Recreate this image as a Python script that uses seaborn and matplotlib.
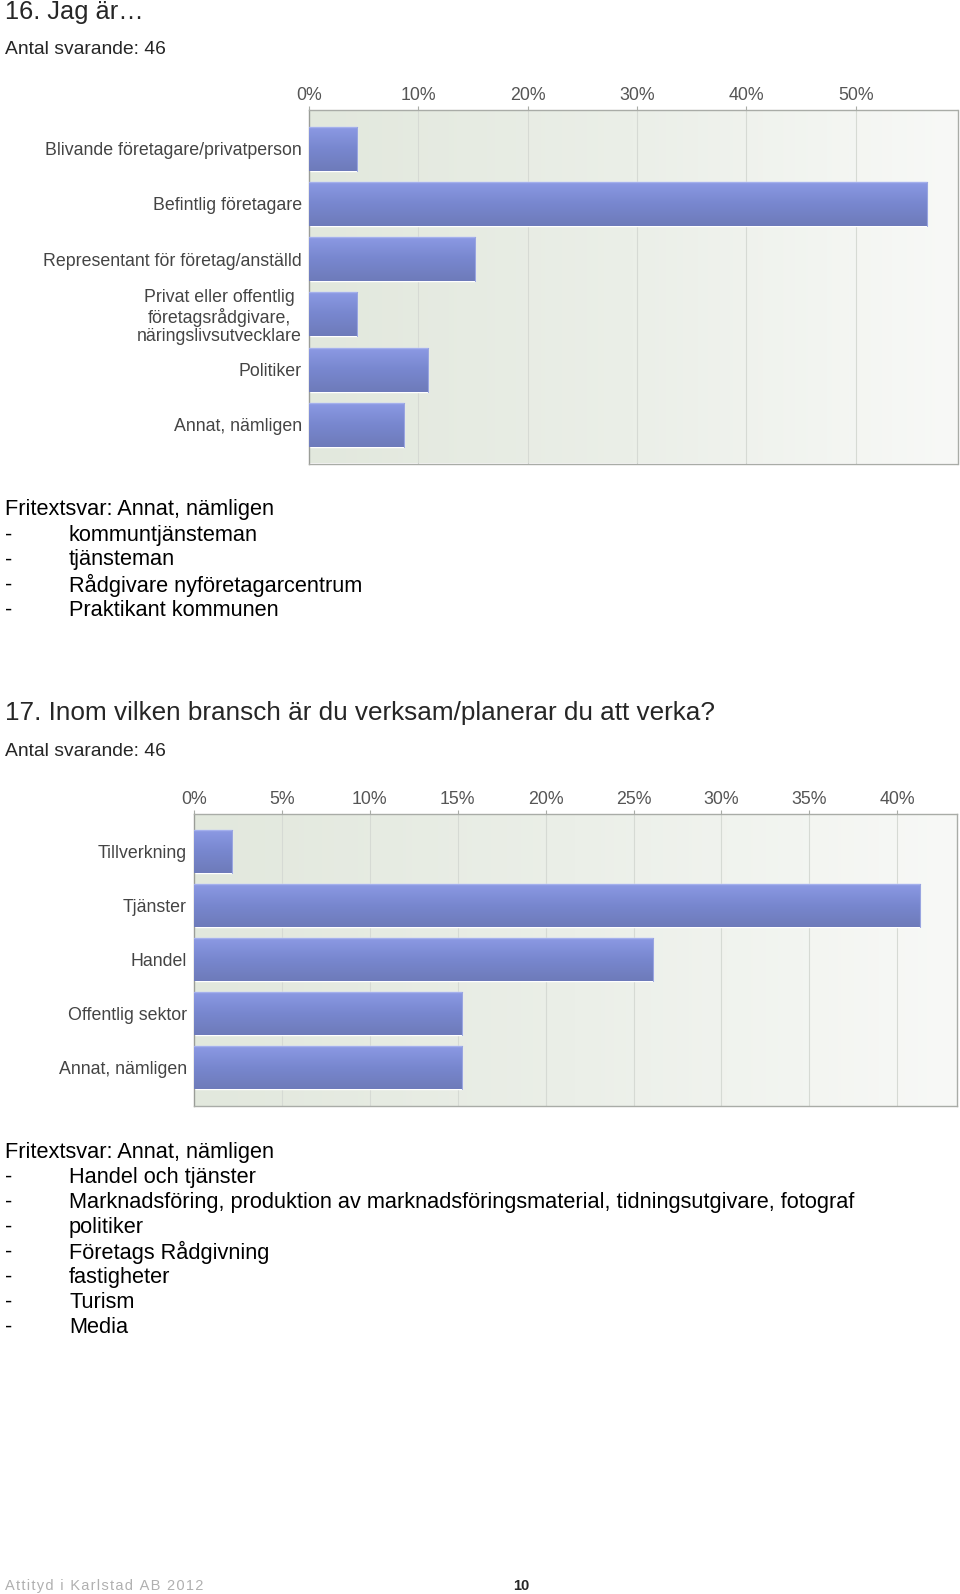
"""
Two survey bar charts (question 16 and 17) laid out as a report page.
"""

import numpy as np
import pandas as pd
import matplotlib
matplotlib.use("Agg")
import matplotlib.pyplot as plt
from matplotlib.colors import LinearSegmentedColormap
import seaborn as sns

# ── Data ───────────────────────────────────────────────────────────────────────
N_RESP = 46

Q16_TITLE = "16. Jag är…"
Q16_CATS = [
    "Blivande företagare/privatperson",
    "Befintlig företagare",
    "Representant för företag/anställd",
    "Privat eller offentlig\nföretagsrådgivare,\nnäringslivsutvecklare",
    "Politiker",
    "Annat, nämligen",
]
Q16_PCT = [4.35, 56.52, 15.22, 4.35, 10.87, 8.70]
Q16_TICKS = [0, 10, 20, 30, 40, 50]
Q16_FREE = ["kommuntjänsteman", "tjänsteman", "Rådgivare nyföretagarcentrum",
            "Praktikant kommunen"]

Q17_TITLE = "17. Inom vilken bransch är du verksam/planerar du att verka?"
Q17_CATS = ["Tillverkning", "Tjänster", "Handel", "Offentlig sektor", "Annat, nämligen"]
Q17_PCT = [2.17, 41.30, 26.09, 15.22, 15.22]
Q17_TICKS = [0, 5, 10, 15, 20, 25, 30, 35, 40]
Q17_FREE = ["Handel och tjänster",
            "Marknadsföring, produktion av marknadsföringsmaterial, tidningsutgivare, fotograf",
            "politiker", "Företags Rådgivning", "fastigheter", "Turism", "Media"]

FOOTER = "Attityd i Karlstad AB 2012"
PAGE_NO = "10"

# ── Style ──────────────────────────────────────────────────────────────────────
sns.set_theme(style="white")
plt.rcParams["font.family"] = ["Liberation Sans", "DejaVu Sans"]

W, H = 960, 1594
BAR_CMAP = LinearSegmentedColormap.from_list("bar", ["#8c9ae4", "#7887cf", "#6e7bba"])
BG_CMAP = LinearSegmentedColormap.from_list("bg", ["#e2e8dd", "#ebefe8", "#f8f9f7"])
FRAME = "#a9aca7"
GRID = "#d6dad4"
TICK_FS = 12.8
BODY_FS = 15.7


def px(x, y):
    """pixel coords (top-left origin) -> figure fraction"""
    return x / W, 1 - y / H


def bar_chart(fig, rect, cats, vals, ticks, xmax):
    l, t, r, b = rect
    ax = fig.add_axes([l / W, 1 - b / H, (r - l) / W, (b - t) / H])
    df = pd.DataFrame({"cat": cats, "pct": vals})
    sns.barplot(data=df, x="pct", y="cat", orient="h", color="#7b89d2",
                width=0.8, saturation=1, ax=ax, zorder=2)
    n = len(cats)
    ax.set_xlim(0, xmax)

    # background gradient
    grad = np.linspace(0, 1, 256).reshape(1, -1)
    ax.imshow(grad, cmap=BG_CMAP, aspect="auto", extent=[0, xmax, n - 0.3, -0.7],
              zorder=0)

    # gradient fill for each bar
    vgrad = np.linspace(0, 1, 64).reshape(-1, 1)
    for p in ax.patches:
        x0, y0 = p.get_x(), p.get_y()
        im = ax.imshow(vgrad, cmap=BAR_CMAP, aspect="auto",
                       extent=[x0, x0 + p.get_width(), y0 + p.get_height(), y0],
                       zorder=3)
        im.set_clip_path(p)
        ax.plot([x0, x0 + p.get_width()], [y0, y0], color="#a4b0ec", lw=1, zorder=4)
        ax.plot([x0 + p.get_width()] * 2, [y0, y0 + p.get_height()],
                color="#99a5e0", lw=0.8, zorder=4)
    ax.set_xlim(0, xmax)
    ax.set_ylim(n - 0.3, -0.7)

    ax.set_xticks(ticks)
    ax.set_xticklabels([f"{v}%" for v in ticks])
    ax.xaxis.tick_top()
    ax.tick_params(axis="x", top=True, length=3, width=0.8, color=FRAME, pad=1.5,
                   labelsize=TICK_FS, labelcolor="#555555")
    ax.tick_params(axis="y", left=False, length=0, pad=5, labelsize=TICK_FS,
                   labelcolor="#444444")
    for lab in ax.get_yticklabels():
        lab.set_multialignment("center")
        lab.set_linespacing(1.1)
    ax.set_xlabel("")
    ax.set_ylabel("")
    for v in ticks[1:]:
        ax.axvline(v, color=GRID, lw=0.8, zorder=1)
    for s in ax.spines.values():
        s.set_color(FRAME)
        s.set_linewidth(1.0)
    ax.spines["left"].set_color("#9a9d98")
    return ax


def text_block(fig, y0, header, items, step, fs):
    fig.text(*px(5, y0), header, fontsize=fs, va="center", ha="left", color="black")
    for i, item in enumerate(items):
        y = y0 + step * (i + 1)
        fig.text(*px(5, y), "-", fontsize=fs, va="center", ha="left", color="black")
        fig.text(*px(69, y), item, fontsize=fs, va="center", ha="left", color="black")


fig = plt.figure(figsize=(W / 100, H / 100), dpi=100)
fig.patch.set_facecolor("white")

# ── Question 16 ────────────────────────────────────────────────────────────────
fig.text(*px(5, 12), Q16_TITLE, fontsize=18.3, va="center", ha="left")
fig.text(*px(5, 49), f"Antal svarande: {N_RESP}", fontsize=13.9, va="center")
bar_chart(fig, (309, 110, 957.5, 463.5), Q16_CATS, Q16_PCT, Q16_TICKS, 59.3)
text_block(fig, 510, "Fritextsvar: Annat, nämligen", Q16_FREE, 25.0, BODY_FS)

# ── Question 17 ────────────────────────────────────────────────────────────────
fig.text(*px(5, 713), Q17_TITLE, fontsize=18.8, va="center", ha="left")
fig.text(*px(5, 752), f"Antal svarande: {N_RESP}", fontsize=13.9, va="center")
bar_chart(fig, (194, 814, 957, 1105.5), Q17_CATS, Q17_PCT, Q17_TICKS, 43.4)
text_block(fig, 1152.5, "Fritextsvar: Annat, nämligen", Q17_FREE, 25.0, BODY_FS)

# ── Footer ─────────────────────────────────────────────────────────────────────
fig.text(*px(5, 1586), "\u200a".join(FOOTER), fontsize=10.5, color="#b0b0b0",
         va="center", ha="left")
fig.text(*px(513, 1586), PAGE_NO, fontsize=10.5, fontweight="bold", va="center", ha="left")

fig.savefig("out.png", dpi=100)
